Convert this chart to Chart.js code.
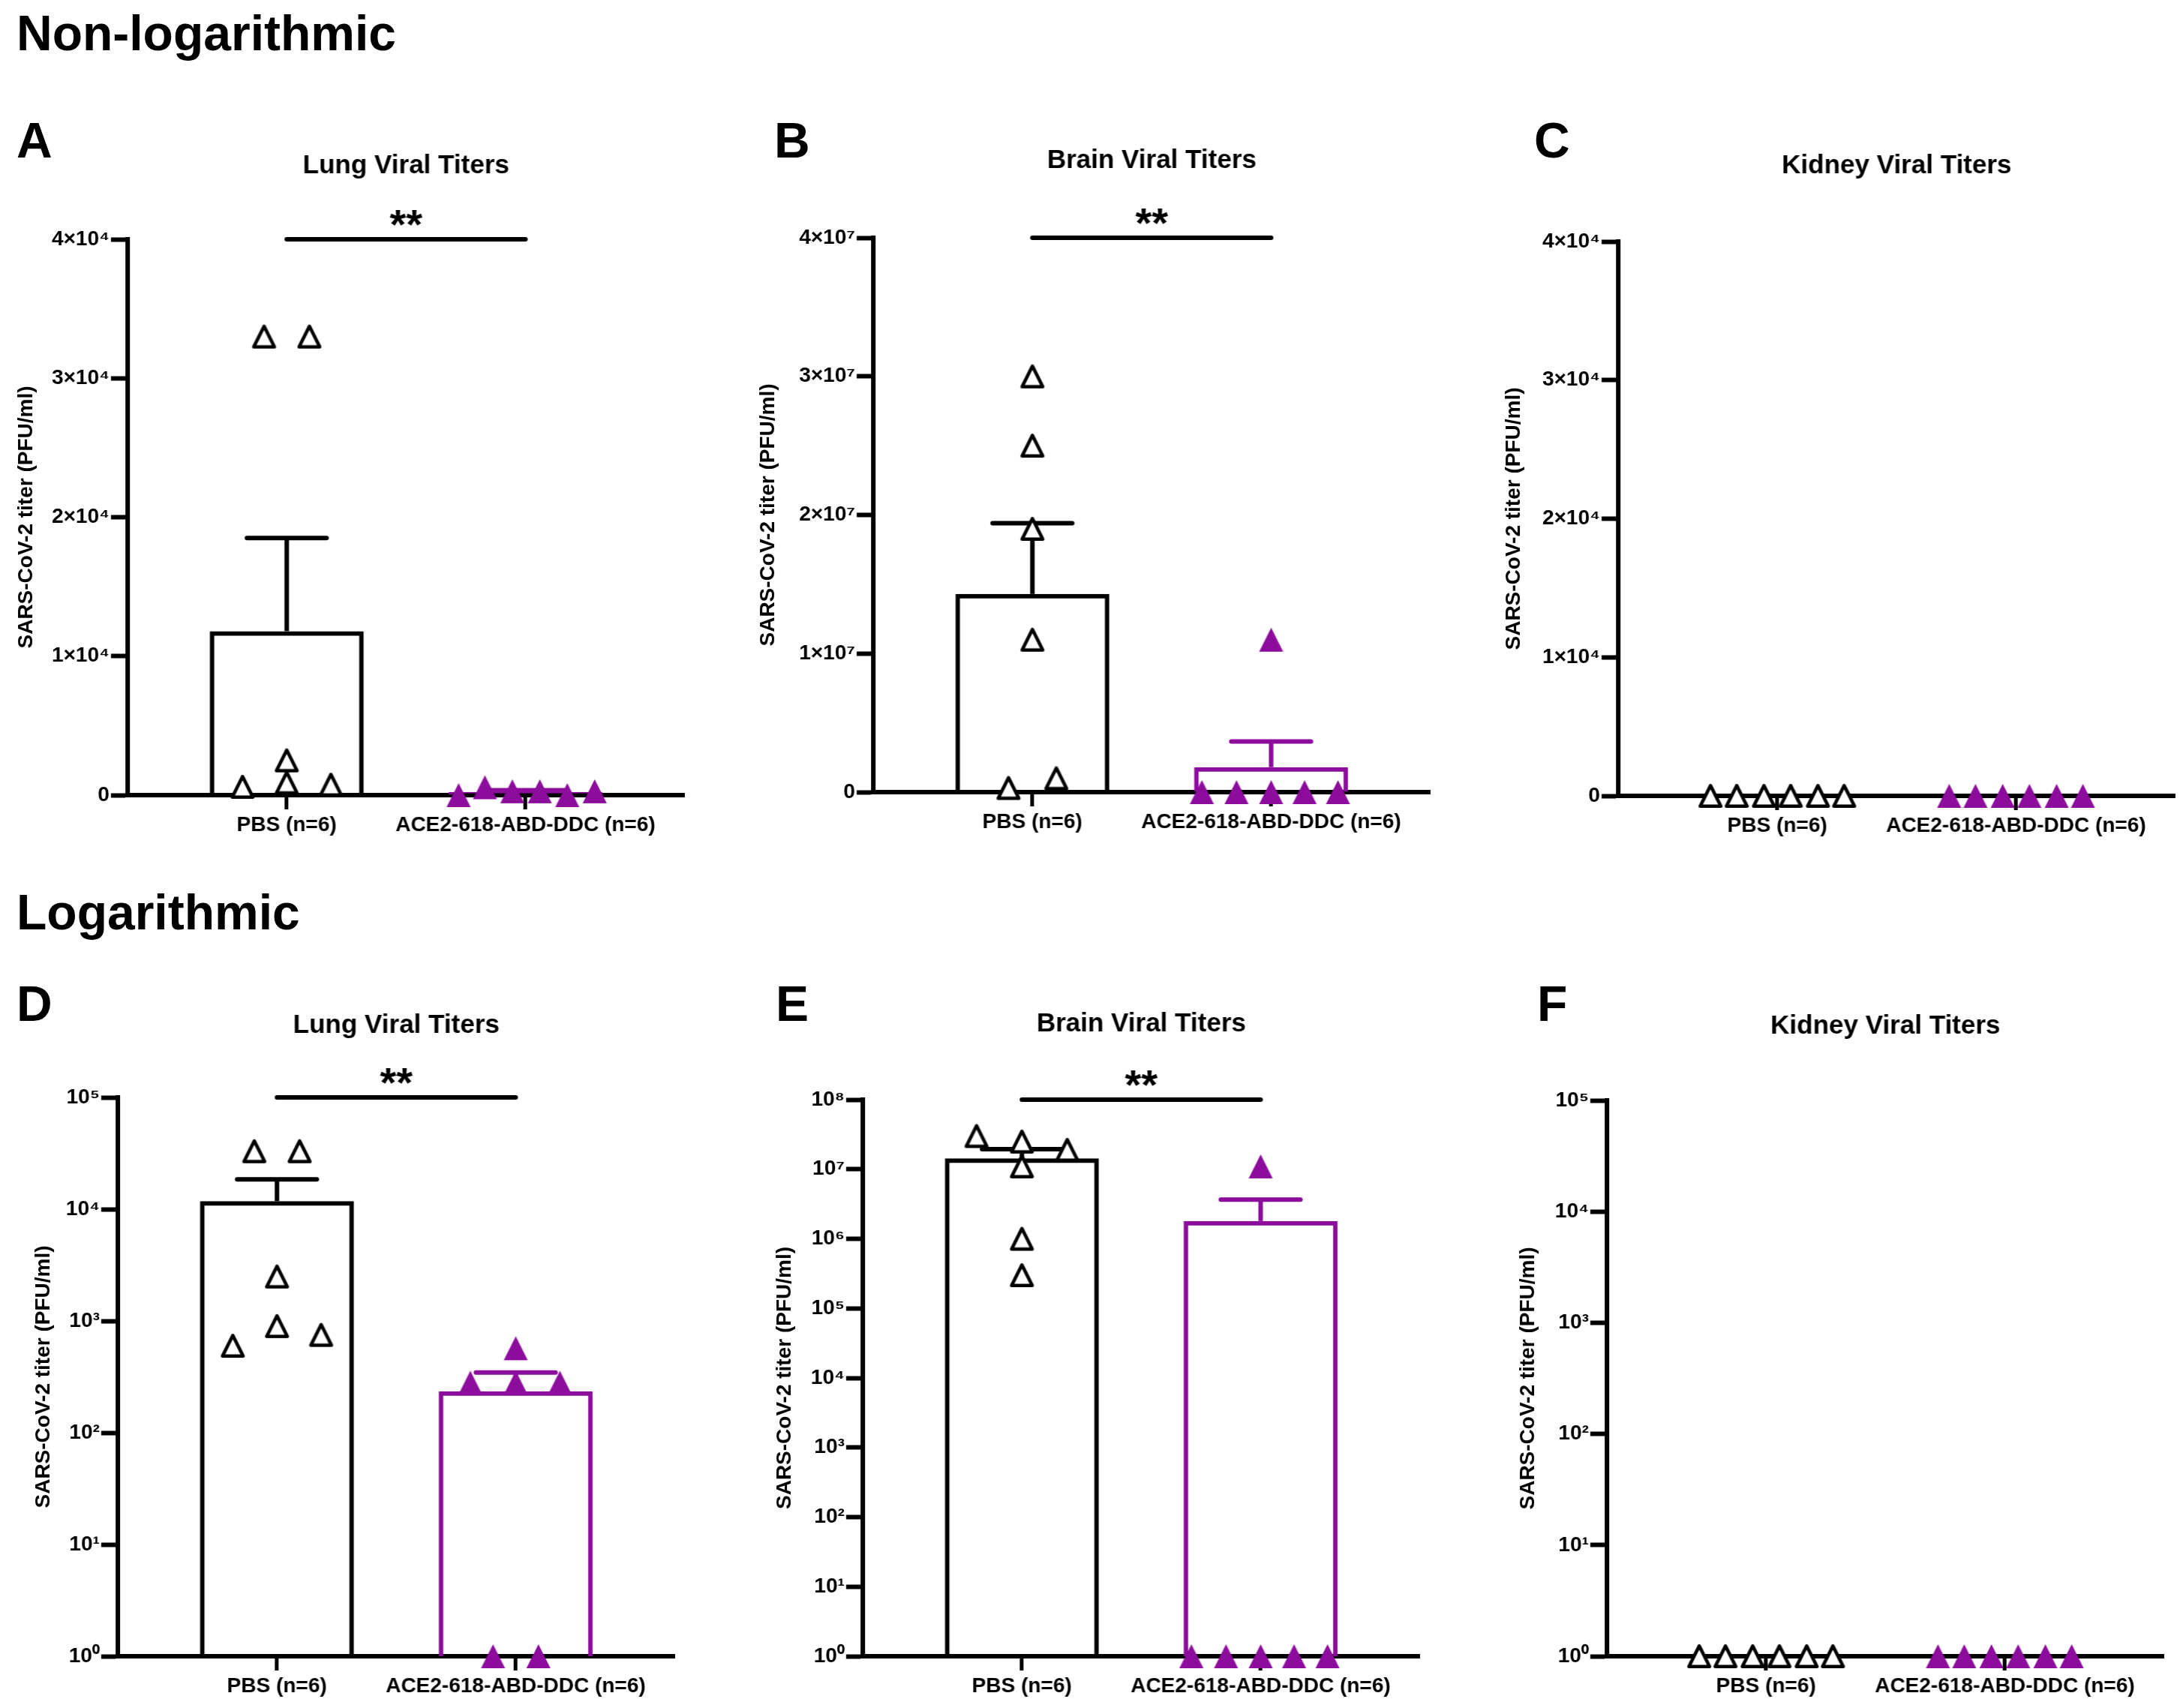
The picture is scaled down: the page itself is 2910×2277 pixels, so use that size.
<!DOCTYPE html>
<html>
<head>
<meta charset="utf-8">
<script src="https://cdn.jsdelivr.net/npm/chart.js@4.4.1/dist/chart.umd.min.js"></script>
<style>
  html, body { margin: 0; padding: 0; background: #fff; }
  body { width: 2910px; height: 2277px; overflow: hidden; position: relative;
         font-family: "Liberation Sans", Arial, sans-serif; color: #000; }
  .head { position: absolute; font-weight: bold; font-size: 66px; line-height: 1; white-space: nowrap; }
  .panel { position: absolute; }
</style>
</head>
<body>
<div class="head" style="left:22px; top:11px">Non-logarithmic</div>
<div class="head" style="left:22px; top:1183px">Logarithmic</div>

<script>
// ---- data ----
const groups = ['PBS (n=6)', 'ACE2-618-ABD-DDC (n=6)'];

const lungTicks = [0, 10000, 20000, 30000, 40000];
const lungTickLabels = ['0', '1×10⁴', '2×10⁴', '3×10⁴', '4×10⁴'];
const brainTicks = [0, 10000000, 20000000, 30000000, 40000000];
const brainTickLabels = ['0', '1×10⁷', '2×10⁷', '3×10⁷', '4×10⁷'];
const logTicks5 = [1, 10, 100, 1000, 10000, 100000];
const logTickLabels5 = ['10⁰', '10¹', '10²', '10³', '10⁴', '10⁵'];
const logTicks8 = [1, 10, 100, 1000, 10000, 100000, 1000000, 10000000, 100000000];
const logTickLabels8 = ['10⁰', '10¹', '10²', '10³', '10⁴', '10⁵', '10⁶', '10⁷', '10⁸'];

// lung titers, PFU/ml
const lungPBS = [33000, 33000, 2500, 900, 600, 750];
const lungACE = [0, 570, 280, 280, 0, 280];
const lungMean = [11800, 235];
const lungSem = [6700, 110];
// brain titers
const brainPBS = [30000000, 25000000, 19000000, 11000000, 300000, 1000000];
const brainACE = [11000000, 0, 0, 0, 0, 0];
const brainMean = [14300000, 1800000];
const brainSem = [5100000, 1850000];
// kidney titers
const kidneyPBS = [0, 0, 0, 0, 0, 0];
const kidneyACE = [0, 0, 0, 0, 0, 0];
const kidneyMean = [0, 0];
const kidneySem = [0, 0];

// horizontal scatter of the points (category units)
const lungPBSJitter = [-0.095, 0.095, 0, 0, -0.185, 0.185];
const lungACEJitter = [-0.28, -0.17, -0.055, 0.06, 0.175, 0.29];
const lungACEJitterLog = [-0.095, 0, -0.19, 0, 0.095, 0.185];
const brainPBSJitter = [0, 0, 0, 0, -0.1, 0.1];
const brainPBSJitterLog = [-0.19, 0, 0.19, 0, 0, 0];
const brainACEJitter = [0, -0.29, -0.145, 0, 0.14, 0.28];
const kidneyJitter = [-0.28, -0.17, -0.056, 0.056, 0.17, 0.28];

// ---- styling ----
const BLACK = '#000000';
const PURPLE = '#8c0c9c';
const FONT = '"Liberation Sans", Arial, sans-serif';
Chart.defaults.font.family = FONT;
Chart.defaults.color = BLACK;

function triangleSprite(fill, stroke, lw) {
  const c = document.createElement('canvas');
  c.width = 38; c.height = 38;
  const g = c.getContext('2d');
  const half = stroke ? (32 - lw) / 2 : 16;
  g.beginPath();
  g.moveTo(19, 19 - half);
  g.lineTo(19 + half, 19 + half);
  g.lineTo(19 - half, 19 + half);
  g.closePath();
  g.fillStyle = fill;
  g.fill();
  if (stroke) {
    g.lineWidth = lw;
    g.lineJoin = 'round';
    g.strokeStyle = stroke;
    g.stroke();
  }
  return c;
}
const openTri = triangleSprite('#ffffff', BLACK, 4.5);
const fullTri = triangleSprite(PURPLE, null, 0);

// SEM bars drawn right after the bars
const semBars = {
  id: 'semBars',
  afterDatasetDraw(chart, args, opts) {
    if (args.meta.type !== 'bar') return;
    const xs = chart.scales.x, ys = chart.scales.y, ctx = chart.ctx;
    opts.means.forEach((m, i) => {
      const s = opts.sems[i];
      if (!s) return;
      const px = xs.getPixelForValue(i);
      const y0 = ys.getPixelForValue(Math.max(m, ys.min));
      const y1 = ys.getPixelForValue(m + s);
      ctx.save();
      ctx.strokeStyle = opts.colors[i];
      ctx.lineWidth = 6;
      ctx.beginPath(); ctx.moveTo(px, y0); ctx.lineTo(px, y1); ctx.stroke();
      ctx.lineCap = 'round';
      ctx.beginPath(); ctx.moveTo(px - 53, y1); ctx.lineTo(px + 53, y1); ctx.stroke();
      ctx.restore();
    });
  }
};

// significance line with stars
const sigBracket = {
  id: 'sigBracket',
  afterDraw(chart, args, opts) {
    if (!opts.label) return;
    const xs = chart.scales.x, ys = chart.scales.y, ctx = chart.ctx;
    const x0 = xs.getPixelForValue(0), x1 = xs.getPixelForValue(1);
    const y = ys.getPixelForValue(opts.at);
    ctx.save();
    ctx.strokeStyle = BLACK; ctx.lineWidth = 6; ctx.lineCap = 'round';
    ctx.beginPath(); ctx.moveTo(x0, y); ctx.lineTo(x1, y); ctx.stroke();
    ctx.fillStyle = BLACK;
    ctx.font = 'bold 56px ' + FONT;
    ctx.textAlign = 'center';
    ctx.textBaseline = 'alphabetic';
    ctx.fillText(opts.label, (x0 + x1) / 2, y - 1);
    ctx.restore();
  }
};

function points(values, jitter, group, floor) {
  return values.map((v, i) => ({ x: group + jitter[i], y: Math.max(v, floor) }));
}

// ---- panel layout ----
const PLOT_W = 742;
const X_AXIS_H = 70;
const panels = [
  { letter: 'A', lx: 22, ly: 154, axisX: 170, plotTop: 319, plotBottom: 1060, titleY: 221, yLabelX: 35,
    title: 'Lung Viral Titers', log: false, min: 0, max: 40000, ticks: lungTicks, tickLabels: lungTickLabels,
    pbs: lungPBS, ace: lungACE, pbsJ: lungPBSJitter, aceJ: lungACEJitter, mean: lungMean, sem: lungSem, sig: '**' },
  { letter: 'B', lx: 1032, ly: 154, axisX: 1164, plotTop: 317, plotBottom: 1056, titleY: 214, yLabelX: 1024,
    title: 'Brain Viral Titers', log: false, min: 0, max: 40000000, ticks: brainTicks, tickLabels: brainTickLabels,
    pbs: brainPBS, ace: brainACE, pbsJ: brainPBSJitter, aceJ: brainACEJitter, mean: brainMean, sem: brainSem, sig: '**' },
  { letter: 'C', lx: 2045, ly: 154, axisX: 2157, plotTop: 322, plotBottom: 1061, titleY: 221, yLabelX: 2018,
    title: 'Kidney Viral Titers', log: false, min: 0, max: 40000, ticks: lungTicks, tickLabels: lungTickLabels,
    pbs: kidneyPBS, ace: kidneyACE, pbsJ: kidneyJitter, aceJ: kidneyJitter, mean: kidneyMean, sem: kidneySem, sig: null },
  { letter: 'D', lx: 22, ly: 1305, axisX: 157, plotTop: 1463, plotBottom: 2208, titleY: 1367, yLabelX: 58,
    title: 'Lung Viral Titers', log: true, min: 1, max: 100000, ticks: logTicks5, tickLabels: logTickLabels5,
    pbs: lungPBS, ace: lungACE, pbsJ: lungPBSJitter, aceJ: lungACEJitterLog, mean: lungMean, sem: lungSem, sig: '**' },
  { letter: 'E', lx: 1034, ly: 1305, axisX: 1150, plotTop: 1466, plotBottom: 2208, titleY: 1365, yLabelX: 1046,
    title: 'Brain Viral Titers', log: true, min: 1, max: 100000000, ticks: logTicks8, tickLabels: logTickLabels8,
    pbs: brainPBS, ace: brainACE, pbsJ: brainPBSJitterLog, aceJ: brainACEJitter, mean: brainMean, sem: brainSem, sig: '**' },
  { letter: 'F', lx: 2049, ly: 1305, axisX: 2142, plotTop: 1467, plotBottom: 2208, titleY: 1368, yLabelX: 2037,
    title: 'Kidney Viral Titers', log: true, min: 1, max: 100000, ticks: logTicks5, tickLabels: logTickLabels5,
    pbs: kidneyPBS, ace: kidneyACE, pbsJ: kidneyJitter, aceJ: kidneyJitter, mean: kidneyMean, sem: kidneySem, sig: null }
];

panels.forEach(p => {
  const letter = document.createElement('div');
  letter.className = 'head';
  letter.style.left = p.lx + 'px';
  letter.style.top = p.ly + 'px';
  letter.textContent = p.letter;
  document.body.appendChild(letter);

  const left = p.yLabelX - 16.8;
  const yW = p.axisX - left;
  const top = p.titleY - 21 - 10;
  const width = PLOT_W + 2 * yW;
  const height = p.plotBottom + X_AXIS_H - top;

  const box = document.createElement('div');
  box.className = 'panel';
  box.style.left = left + 'px';
  box.style.top = top + 'px';
  box.style.width = width + 'px';
  box.style.height = height + 'px';
  const canvas = document.createElement('canvas');
  box.appendChild(canvas);
  document.body.appendChild(box);

  const floor = p.log ? 1 : 0;
  new Chart(canvas, {
    type: 'scatter',
    data: {
      datasets: [
        {
          type: 'scatter', data: points(p.pbs, p.pbsJ, 0, floor),
          pointStyle: openTri, pointRadius: 16, clip: false, order: 2
        },
        {
          type: 'scatter', data: points(p.ace, p.aceJ, 1, floor),
          pointStyle: fullTri, pointRadius: 16, clip: false, order: 1
        },
        {
          type: 'bar',
          data: p.mean.map((m, i) => ({ x: i, y: Math.max(m, floor) })),
          backgroundColor: 'rgba(255,255,255,0)',
          borderColor: [BLACK, PURPLE],
          borderWidth: 6,
          borderSkipped: 'bottom',
          barPercentage: 0.645,
          categoryPercentage: 1,
          order: 3
        }
      ]
    },
    options: {
      responsive: true,
      maintainAspectRatio: false,
      animation: false,
      events: [],
      layout: { padding: 0 },
      plugins: {
        legend: { display: false },
        tooltip: { enabled: false },
        title: {
          display: true, text: p.title, color: BLACK,
          font: { size: 35, weight: 'bold', lineHeight: 1.2 },
          padding: { top: 10, bottom: p.plotTop - (p.titleY + 21) }
        },
        semBars: { means: p.mean, sems: p.sem, colors: [BLACK, PURPLE] },
        sigBracket: { label: p.sig, at: p.max }
      },
      scales: {
        x: {
          type: 'linear', min: -0.667, max: 1.667, offset: false,
          afterBuildTicks: s => { s.ticks = [{ value: 0 }, { value: 1 }]; },
          afterFit: s => { s.height = X_AXIS_H; },
          grid: { drawOnChartArea: false, drawTicks: true, offset: false,
                  tickLength: 19, tickWidth: 5, tickColor: BLACK },
          border: { display: true, color: BLACK, width: 6 },
          ticks: { callback: v => groups[v], color: BLACK, padding: 4, maxRotation: 0, autoSkip: false,
                   font: { size: 28, weight: 'bold' } }
        },
        y: {
          type: p.log ? 'logarithmic' : 'linear', min: p.min, max: p.max,
          afterBuildTicks: s => { s.ticks = p.ticks.map(v => ({ value: v })); },
          afterFit: s => { s.width = yW; },
          grid: { drawOnChartArea: false, drawTicks: true, tickLength: 22, tickWidth: 6, tickColor: BLACK },
          border: { display: true, color: BLACK, width: 6 },
          ticks: { callback: (v, i) => p.tickLabels[i], color: BLACK, padding: 2, autoSkip: false,
                   font: { size: 28, weight: 'bold' } },
          title: { display: true, text: 'SARS-CoV-2 titer (PFU/ml)', color: BLACK, padding: 0,
                   font: { size: 28, weight: 'bold', lineHeight: 1.2 } }
        },
        // empty right-hand spacer so the title centres over the plot
        spacer: {
          type: 'linear', position: 'right', display: true,
          afterFit: s => { s.width = yW; },
          grid: { display: false, drawTicks: false },
          border: { display: false },
          ticks: { display: false }
        }
      }
    },
    plugins: [semBars, sigBracket]
  });
});
</script>
</body>
</html>
